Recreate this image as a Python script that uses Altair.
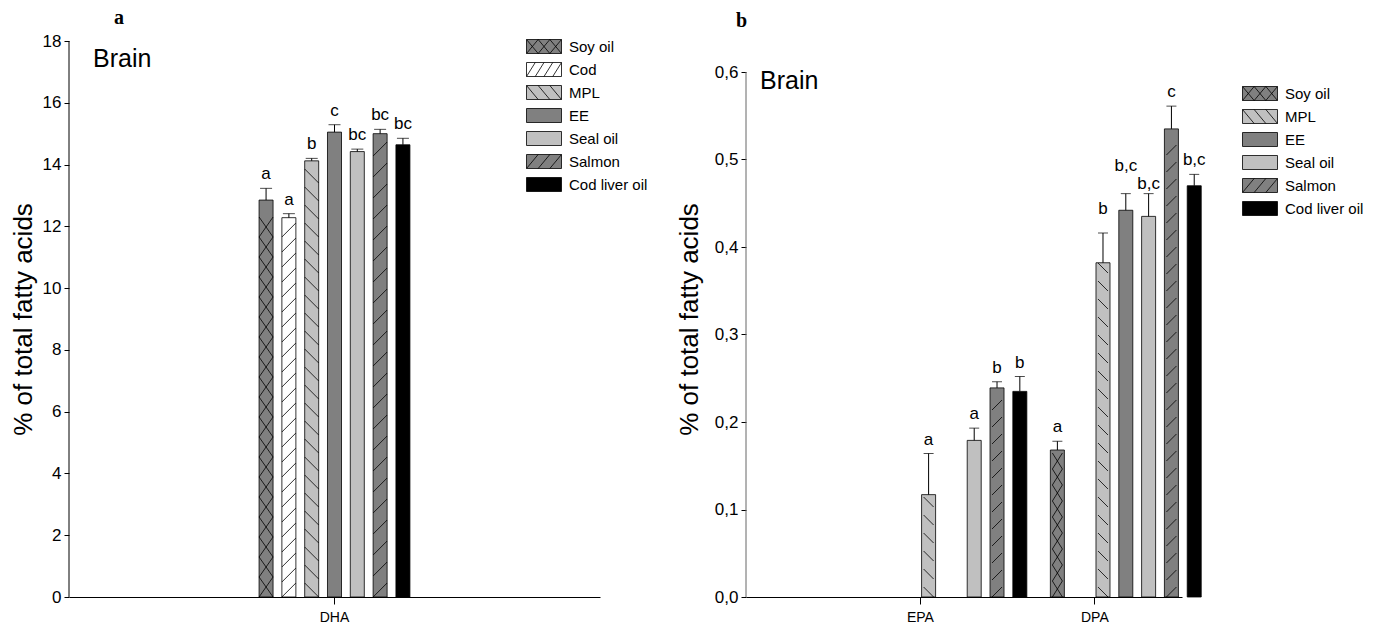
import altair as alt
import pandas as pd

# ---------------- data ----------------
SERIES = ["Soy oil", "Cod", "MPL", "EE", "Seal oil", "Salmon", "Cod liver oil"]

A_FA = ["DHA"] * 7
A_SERIES = ["Soy oil", "Cod", "MPL", "EE", "Seal oil", "Salmon", "Cod liver oil"]
A_VALUES = [12.85, 12.28, 14.12, 15.05, 14.42, 15.0, 14.64]
A_ERRORS = [0.38, 0.13, 0.08, 0.24, 0.08, 0.14, 0.21]
A_LETTERS = ["a", "a", "b", "c", "bc", "bc", "bc"]
A_LEGEND = ["Soy oil", "Cod", "MPL", "EE", "Seal oil", "Salmon", "Cod liver oil"]
A_CATS = ["DHA"]
A_TICKS = [0, 2, 4, 6, 8, 10, 12, 14, 16, 18]

B_FA = ["EPA", "EPA", "EPA", "EPA", "DPA", "DPA", "DPA", "DPA", "DPA", "DPA"]
B_SERIES = ["MPL", "Seal oil", "Salmon", "Cod liver oil",
            "Soy oil", "MPL", "EE", "Seal oil", "Salmon", "Cod liver oil"]
B_VALUES = [0.117, 0.179, 0.239, 0.235, 0.168, 0.382, 0.442, 0.435, 0.535, 0.470]
B_ERRORS = [0.047, 0.014, 0.007, 0.017, 0.010, 0.034, 0.019, 0.026, 0.026, 0.013]
B_LETTERS = ["a", "a", "b", "b", "a", "b", "b,c", "b,c", "c", "b,c"]
B_LEGEND = ["Soy oil", "MPL", "EE", "Seal oil", "Salmon", "Cod liver oil"]
B_CATS = ["EPA", "DPA"]
B_TICKS = [0, 0.1, 0.2, 0.3, 0.4, 0.5, 0.6]

# ---------------- styles ----------------
FILL = {"Soy oil": "#808080", "Cod": "#ffffff", "MPL": "#c0c0c0", "EE": "#808080",
        "Seal oil": "#c0c0c0", "Salmon": "#808080", "Cod liver oil": "#000000"}
HATCH = {"Soy oil": "x", "Cod": "/", "MPL": "\\", "Salmon": "/"}
STEP_A = {"Soy oil": 20, "Cod": 15, "MPL": 18, "Salmon": 21}
STEP_B = {"Soy oil": 16, "MPL": 18, "Salmon": 17}
# extra vertical lift (px) of some significance letters, as staggered in the figure
LABEL_LIFT_PX = {("DPA", "MPL"): 10, ("DPA", "EE"): 14, ("DPA", "Seal oil"): -4}

FONT = "Arial, Liberation Sans, sans-serif"
SERIF = "Times New Roman, Liberation Serif, serif"

H = 556          # common plot-area height (panel a axis spans all of it)
B_AXIS_H = 525   # panel b's value axis is shorter in the figure


def f(v):
    return ("%.4f" % v).rstrip("0").rstrip(".")


def legend_path(s):
    # swatch 5 x 2 units (unit = 7 px with size 196)
    p = "M-1,-1L4,-1L4,1L-1,1Z"
    kind = HATCH.get(s)
    if kind == "x":
        w = 5 / 3
        for i in range(3):
            x0 = -1 + i * w
            p += f"M{f(x0)},-1L{f(x0 + w)},1M{f(x0)},1L{f(x0 + w)},-1"
    elif kind == "/":
        n = 4 if s == "Cod" else 3
        w = 5 / n
        for i in range(n):
            x0 = -1 + i * w
            p += f"M{f(x0)},1L{f(x0 + w)},-1"
    elif kind == "\\":
        w = 5 / 3
        for i in range(3):
            x0 = -1 + i * w
            p += f"M{f(x0)},-1L{f(x0 + w)},1"
    return p


def hatch_rows(fa, series, values, px_per_unit, bar_w, steps):
    rows = []
    for fcat, s, v in zip(fa, series, values):
        kind = HATCH.get(s)
        if kind is None:
            continue
        step = steps[s]
        if kind == "x":
            L = max(bar_w, step)
            hx, hy = bar_w / L, step / L
            path = f"M{f(-hx)},{f(-hy)}L{f(hx)},{f(hy)}M{f(-hx)},{f(hy)}L{f(hx)},{f(-hy)}"
            half = step / 2
        elif kind == "/":
            L = bar_w
            path = "M-1,1L1,-1"
            half = bar_w / 2
        else:
            L = bar_w
            path = "M-1,-1L1,1"
            half = bar_w / 2
        top = v * px_per_unit
        y = half
        while y + half <= top + 0.5:
            rows.append({"fa": fcat, "series": s, "yh": y / px_per_unit,
                         "path": path, "size": L * L})
            y += step
    return pd.DataFrame(rows)


def panel(fa, series, values, errors, letters, legend_series, ticks,
          width, ydom, yaxis, xscale, offscale, bar_w, cap_w,
          steps, leg_xy, title, brain_xy, axis_color):
    bars = pd.DataFrame({"fa": fa, "series": series, "value": values,
                         "err": errors, "letter": letters})
    bars["hi"] = bars["value"] + bars["err"]
    bars["fill"] = bars["series"].map(FILL)
    ppu = H / (ydom[1] - ydom[0])
    bars["ly"] = [h + LABEL_LIFT_PX.get((a, b), 0) / ppu
                  for a, b, h in zip(bars["fa"], bars["series"], bars["hi"])]
    hatch = hatch_rows(fa, series, values, ppu, bar_w, steps)

    yscale = alt.Scale(domain=ydom, nice=False, zero=True)
    xenc = alt.X("fa:N", scale=xscale,
                 axis=alt.Axis(title=None, labelAngle=0, labelFont=FONT, labelFontSize=14,
                               labelColor="black", tickSize=7, tickColor="black",
                               domainColor="black", labelPadding=6, grid=False,
                               bandPosition=0.5))
    xo = alt.XOffset("series:N", scale=offscale)

    bar = alt.Chart(bars).mark_bar(stroke="black", strokeWidth=0.8).encode(
        x=xenc, xOffset=xo,
        y=alt.Y("value:Q", scale=yscale, axis=yaxis),
        fill=alt.Fill("fill:N", scale=None),
    )
    # value-axis line, from 0 to the top tick
    axline = alt.Chart(pd.DataFrame({"y0": [ticks[0]], "y1": [ticks[-1]]})).mark_rule(
        color=axis_color, strokeWidth=1
    ).encode(x=alt.value(0), y=alt.Y("y0:Q", scale=yscale), y2="y1:Q")
    hat = alt.Chart(hatch).mark_point(filled=False, opacity=1, stroke="black",
                                     strokeWidth=0.8).encode(
        x=alt.X("fa:N", scale=xscale), xOffset=xo,
        y=alt.Y("yh:Q", scale=yscale),
        shape=alt.Shape("path:N", scale=None),
        size=alt.Size("size:Q", scale=None),
    )
    rule = alt.Chart(bars).mark_rule(color="black", strokeWidth=1).encode(
        x=alt.X("fa:N", scale=xscale), xOffset=xo,
        y=alt.Y("value:Q", scale=yscale), y2="hi:Q",
    )
    cap = alt.Chart(bars).mark_tick(color="black", thickness=1, size=cap_w,
                                   orient="horizontal").encode(
        x=alt.X("fa:N", scale=xscale), xOffset=xo,
        y=alt.Y("hi:Q", scale=yscale),
    )
    txt = alt.Chart(bars).mark_text(font=FONT, fontSize=17, baseline="bottom",
                                   dy=-5, color="black").encode(
        x=alt.X("fa:N", scale=xscale), xOffset=xo,
        y=alt.Y("ly:Q", scale=yscale), text="letter:N",
    )
    brain = alt.Chart(pd.DataFrame({"t": ["Brain"]})).mark_text(
        font=FONT, fontSize=25, align="left", baseline="middle", color="black"
    ).encode(text="t:N", x=alt.value(brain_xy[0]), y=alt.value(brain_xy[1]))

    leg = alt.Legend(title=None, orient="none", legendX=leg_xy[0], legendY=leg_xy[1],
                     labelFont=FONT, labelFontSize=15, labelColor="black",
                     labelOffset=28, rowPadding=4, symbolSize=196,
                     symbolStrokeColor="black", symbolStrokeWidth=0.8, padding=0)
    legdf = pd.DataFrame({"series": legend_series})
    legend_layer = alt.Chart(legdf).transform_filter("false").mark_point(
        filled=True, opacity=1, stroke="black", strokeWidth=0.8
    ).encode(
        color=alt.Color("series:N", scale=alt.Scale(domain=legend_series,
                                                     range=[FILL[s] for s in legend_series]),
                        legend=leg),
        shape=alt.Shape("series:N", scale=alt.Scale(domain=legend_series,
                                                     range=[legend_path(s) for s in legend_series]),
                        legend=leg),
    )
    return alt.layer(bar, axline, hat, rule, cap, txt, brain, legend_layer).properties(
        width=width, height=H, title=title)


def y_axis(ticks, title_pad, label_expr=None):
    kw = dict(values=ticks, title="% of total fatty acids",
              titleFont=FONT, titleFontSize=26, titleFontWeight="normal",
              titleColor="black", titlePadding=title_pad, labelFont=FONT,
              labelFontSize=17, labelColor="black", tickSize=5, tickColor="black",
              domain=False, labelPadding=3, grid=False)
    if label_expr:
        kw["labelExpr"] = label_expr
    return alt.Axis(**kw)


# panel a
a_xscale = alt.Scale(domain=A_CATS, paddingInner=0, paddingOuter=1)
a_off = alt.Scale(domain=SERIES, paddingInner=0.386, paddingOuter=0.573)
a_yaxis = y_axis(A_TICKS, 6)
a_title = alt.TitleParams("a", anchor="start", frame="group", dx=45, offset=4,
                          font=SERIF, fontSize=20, fontWeight="bold", color="black")
pa = panel(A_FA, A_SERIES, A_VALUES, A_ERRORS, A_LETTERS, A_LEGEND, A_TICKS,
           531, [0, 18], a_yaxis, a_xscale, a_off, 14, 12, STEP_A,
           (457, -2), a_title, (24, 18), "black")

# panel b (value axis 0-0.6 covers the lower B_AXIS_H px of the plot area)
b_top = 0.6 * H / B_AXIS_H
b_xscale = alt.Scale(domain=B_CATS, paddingInner=0.34, paddingOuter=0.42, align=0.798)
b_off = alt.Scale(domain=SERIES, paddingInner=0.333, paddingOuter=0.5)
b_yaxis = y_axis(B_TICKS, 12, "replace(format(datum.value, '.1f'), '.', ',')")
b_title = alt.TitleParams("b", anchor="start", frame="group", dx=-10, offset=10,
                          font=SERIF, fontSize=20, fontWeight="bold", color="black")
pb = panel(B_FA, B_SERIES, B_VALUES, B_ERRORS, B_LETTERS, B_LEGEND, B_TICKS,
           436, [0, b_top], b_yaxis, b_xscale, b_off, 10, 10, STEP_B,
           (496, 45), b_title, (14, 40), "#666666")

chart = alt.hconcat(pa, pb, spacing=28).resolve_scale(
    color="independent", shape="independent"
).resolve_legend(
    color="independent", shape="independent"
).properties(
    padding={"left": 2, "top": 0, "right": 0, "bottom": 0}
).configure_view(stroke=None).configure_legend(padding=0)

chart.save("out.html", embed_options={"renderer": "svg", "actions": False})
